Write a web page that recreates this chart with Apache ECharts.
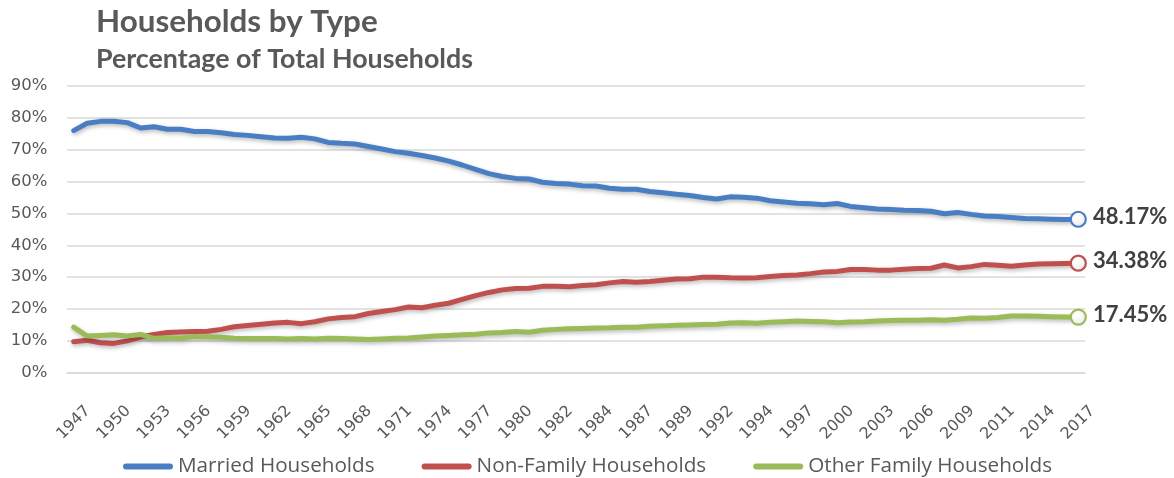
<!DOCTYPE html>
<html>
<head>
<meta charset="utf-8">
<script src="https://cdn.jsdelivr.net/npm/echarts@6/dist/echarts.min.js"></script>
<style>
html,body{margin:0;padding:0;background:#fff;}
#chart{width:1174px;height:478px;}
</style>
</head>
<body>
<div id="chart"></div>
<script>
// Category labels (source table has revised duplicate years)
const years = [
  1947,1948,1949,1950,1951,1952,1953,1954,1955,1956,1957,1958,1959,1960,1961,1962,1963,1964,1965,1966,
  1967,1968,1969,1970,1971,1972,1973,1974,1975,1976,1977,1978,1979,1980,1981,1981,1982,1983,1983,1984,
  1985,1986,1987,1988,1988,1989,1990,1991,1992,1993,1993,1994,1995,1996,1997,1998,1999,2000,2001,2002,
  2003,2004,2005,2006,2007,2008,2009,2010,2010,2011,2012,2013,2014,2015,2016,2017
];
const seriesNames = ["Married Households", "Non-Family Households", "Other Family Households"];
const married = [
  76.0,78.3,78.9,78.9,78.5,76.8,77.2,76.4,76.4,75.7,75.7,75.3,74.8,74.5,74.1,73.7,73.6,73.9,73.4,72.3,
  72.0,71.8,71.0,70.2,69.4,68.9,68.2,67.4,66.4,65.2,63.8,62.5,61.6,61.0,60.8,59.8,59.4,59.2,58.7,58.6,
  57.9,57.6,57.6,56.9,56.5,56.0,55.6,55.0,54.5,55.2,55.1,54.8,54.0,53.6,53.2,53.0,52.7,53.1,52.2,51.8,
  51.4,51.2,51.0,50.9,50.7,49.9,50.3,49.7,49.2,49.0,48.7,48.4,48.3,48.2,48.1,48.17
];
const nonFamily = [
  9.7,10.2,9.4,9.2,10.0,11.2,12.0,12.6,12.8,12.9,13.0,13.6,14.4,14.8,15.2,15.6,15.8,15.4,16.0,16.9,
  17.3,17.6,18.6,19.2,19.8,20.6,20.4,21.2,21.8,23.0,24.2,25.2,26.0,26.4,26.5,27.1,27.1,27.0,27.4,27.6,
  28.2,28.6,28.4,28.6,29.0,29.4,29.5,30.0,30.0,29.8,29.7,29.8,30.2,30.5,30.7,31.1,31.6,31.8,32.4,32.4,
  32.2,32.2,32.5,32.7,32.8,33.8,32.9,33.3,34.0,33.7,33.4,33.8,34.1,34.2,34.3,34.38
];
const otherFamily = [
  14.3,11.5,11.7,11.9,11.5,12.0,10.8,11.0,10.8,11.4,11.3,11.1,10.8,10.7,10.7,10.7,10.6,10.7,10.6,10.8,
  10.7,10.6,10.4,10.6,10.8,10.9,11.2,11.5,11.7,11.9,12.1,12.5,12.6,12.9,12.7,13.3,13.6,13.8,13.9,14.0,
  14.1,14.3,14.3,14.6,14.7,14.9,15.0,15.1,15.2,15.6,15.7,15.5,15.8,16.0,16.2,16.1,16.0,15.7,15.9,16.0,
  16.2,16.4,16.5,16.5,16.6,16.5,16.8,17.2,17.1,17.3,17.8,17.8,17.7,17.6,17.5,17.45
];
const colors = ["#4A7EC4", "#C0504D", "#9BBB59"];
const TITLE_FONT = "Lato";
const TEXT_FONT = "Open Sans";
const AXIS_FONT = "DejaVu Sans";

function buildData(arr, color) {
  return arr.map((v, i) => {
    if (i !== arr.length - 1) return v;
    return {
      value: v,
      symbol: "circle",
      symbolSize: 15,
      itemStyle: {
        color: {type: "radial", x: 0.4, y: 0.35, r: 0.7,
          colorStops: [{offset: 0, color: "#ffffff"}, {offset: 0.7, color: "#f2f2f2"}, {offset: 1, color: "#d0d0d0"}]},
        borderColor: color,
        borderWidth: 2.2
      },
      label: {
        show: true, position: "right", distance: 6, offset: [0, -2],
        formatter: () => v.toFixed(2) + "%",
        fontFamily: TITLE_FONT, fontWeight: "bold", fontSize: 22, color: "#404040"
      }
    };
  });
}

function makeSeries(name, arr, color) {
  return {
    name: name,
    type: "line",
    data: buildData(arr, color),
    symbol: "none",
    smooth: false,
    lineStyle: {
      width: 5, color: color, cap: "round", join: "round",
      shadowColor: "rgba(0,0,0,0.28)", shadowBlur: 4, shadowOffsetX: 1, shadowOffsetY: 2
    },
    itemStyle: {color: color},
    emphasis: {disabled: true},
    z: 3
  };
}

const chart = echarts.init(document.getElementById("chart"), null, {renderer: "canvas"});
chart.setOption({
  animation: false,
  backgroundColor: "#ffffff",
  title: [
    {text: "Households by Type", left: 96, top: 6.5, padding: 0,
     textStyle: {fontFamily: TITLE_FONT, fontWeight: "bold", fontSize: 31.4, color: "#595959"}},
    {text: "Percentage of Total Households", left: 96, top: 45.5, padding: 0,
     textStyle: {fontFamily: TITLE_FONT, fontWeight: "bold", fontSize: 26.8, color: "#595959"}}
  ],
  grid: {left: 67, right: 89, top: 86, bottom: 105.3, containLabel: false, outerBoundsMode: "none"},
  legend: {
    data: seriesNames,
    left: 123,
    top: 456,
    padding: 0,
    icon: "path://M3,0H47A3,3,0,0,1,47,6H3A3,3,0,0,1,3,0Z",
    itemWidth: 50,
    itemHeight: 6,
    itemGap: 47,
    textStyle: {fontFamily: TEXT_FONT, fontSize: 20.7, color: "#595959"}
  },
  xAxis: {
    type: "category",
    data: years.map(String),
    boundaryGap: true,
    axisLine: {show: true, lineStyle: {color: "#d9d9d9", width: 1.5}},
    axisTick: {show: false},
    axisLabel: {
      interval: 2, rotate: 45, align: "center", verticalAlign: "middle", margin: 50,
      fontFamily: AXIS_FONT, fontSize: 15.8, color: "#595959"
    },
    splitLine: {show: false}
  },
  yAxis: {
    type: "value",
    min: 0, max: 90, interval: 10,
    axisLine: {show: false},
    axisTick: {show: false},
    axisLabel: {formatter: "{value}%", margin: 19.5, fontFamily: AXIS_FONT, fontSize: 16.5, color: "#595959"},
    splitLine: {lineStyle: {color: "#d9d9d9", width: 1.5}}
  },
  series: [
    makeSeries(seriesNames[0], married, colors[0]),
    makeSeries(seriesNames[1], nonFamily, colors[1]),
    makeSeries(seriesNames[2], otherFamily, colors[2])
  ]
});
</script>
</body>
</html>
